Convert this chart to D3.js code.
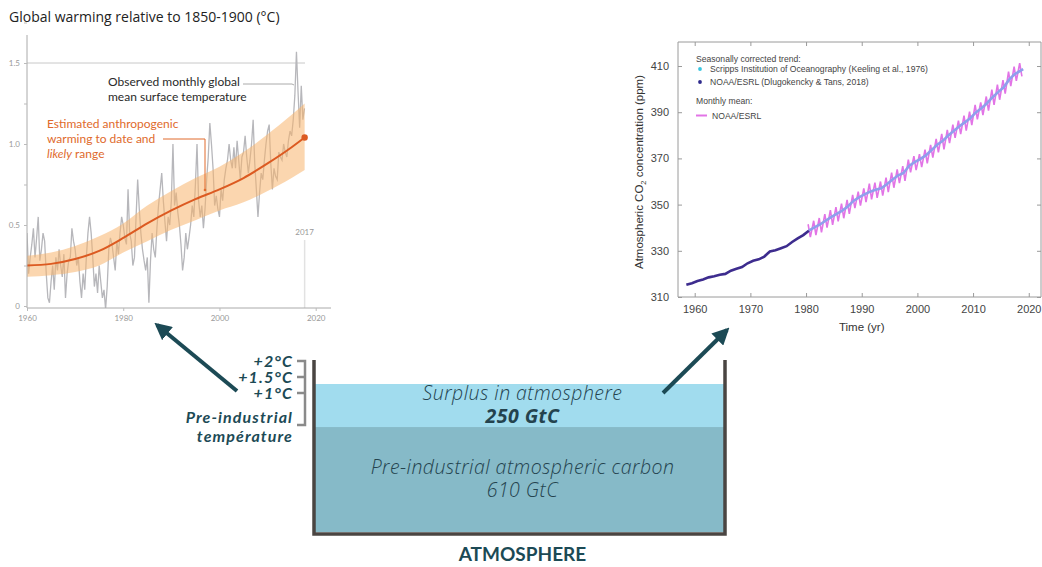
<!DOCTYPE html>
<html>
<head>
<meta charset="utf-8">
<script src="https://cdn.jsdelivr.net/npm/d3@7"></script>
<style>
  body { margin: 0; background: #fff; }
  svg { display: block; }
</style>
</head>
<body>
<svg id="chart"></svg>
<script>
var width = 1042;
var height = 567;

// ---- left chart data: global warming (°C rel. 1850-1900)
var obsStart = 1960;
var obsPerYear = 3;
var obsTemp = [
  0.45, 0.20, 0.30,  0.38, 0.48, 0.30,  0.42, 0.55, 0.28,  0.35, 0.45, 0.40,
  0.20, 0.05, 0.02,  0.15, 0.25, 0.10,  0.30, 0.22, 0.35,  0.25, 0.18, 0.32,
  0.05, 0.20, 0.28,  0.30, 0.48, 0.40,  0.35, 0.25, 0.30,  0.15, 0.05, 0.20,
  0.10, 0.30, 0.45,  0.55, 0.45, 0.30,  0.12, 0.20, 0.08,  0.25, 0.15, 0.05,
  0.10, -0.02, 0.12, 0.35, 0.42, 0.38,  0.30, 0.22, 0.40,  0.32, 0.45, 0.55,
  0.50, 0.42, 0.38,  0.72, 0.45, 0.40,  0.25, 0.30, 0.55,  0.78, 0.60, 0.45,
  0.35, 0.28, 0.22,  0.30, 0.02, 0.28,  0.45, 0.35, 0.30,  0.48, 0.62, 0.72,
  0.82, 0.65, 0.52,  0.40, 0.55, 0.50,  0.65, 1.00, 0.62,  0.70, 0.58, 0.50,
  0.38, 0.22, 0.30,  0.45, 0.35, 0.42,  0.50, 0.62, 0.55,  0.75, 1.00, 0.65,
  0.55, 0.62, 0.48,  0.60, 0.78, 0.92,  1.13, 1.00, 0.85,  0.62, 0.68, 0.60,
  0.55, 0.72, 0.65,  0.78, 0.85, 0.90,  1.00, 0.90, 0.85,  0.98, 0.85, 1.02,
  0.90, 0.78, 0.92,  0.95, 1.05, 0.92,  0.82, 0.90, 1.00,  1.15, 0.88, 0.72,
  0.55, 0.70, 0.82,  0.78, 0.90, 1.00,  1.08, 1.12, 0.88,  0.72, 0.85, 0.80,
  0.78, 0.95, 0.92,  0.90, 1.00, 0.95,  0.92, 1.02, 1.08,  1.05, 1.15, 1.30,
  1.57, 1.32, 1.10,  1.36, 1.15, 1.22
];
var anthroYears = [1960, 1965, 1970, 1975, 1980, 1985, 1990, 1995, 2000, 2005, 2010, 2015, 2017.7];
var anthroMid   = [0.25, 0.26, 0.29, 0.34, 0.42, 0.51, 0.59, 0.66, 0.72, 0.79, 0.88, 0.98, 1.04];
var anthroHigh  = [0.31, 0.33, 0.37, 0.43, 0.51, 0.62, 0.71, 0.79, 0.86, 0.95, 1.06, 1.18, 1.25];
var anthroLow   = [0.18, 0.19, 0.21, 0.25, 0.33, 0.40, 0.47, 0.53, 0.59, 0.64, 0.71, 0.79, 0.84];
var tempYTicks = [0, 0.25, 0.5, 0.75, 1.0, 1.25, 1.5, 1.75];
var tempYLabels = {0: "0", 0.5: "0.5", 1: "1.0", 1.5: "1.5"};
var tempXTicks = [1960, 1980, 2000, 2020];

// ---- right chart data: CO2 (ppm)
var co2Years = [1958, 1959, 1960, 1961, 1962, 1963, 1964, 1965, 1966, 1967, 1968, 1969,
  1970, 1971, 1972, 1973, 1974, 1975, 1976, 1977, 1978, 1979, 1980, 1981, 1982, 1983,
  1984, 1985, 1986, 1987, 1988, 1989, 1990, 1991, 1992, 1993, 1994, 1995, 1996, 1997,
  1998, 1999, 2000, 2001, 2002, 2003, 2004, 2005, 2006, 2007, 2008, 2009, 2010, 2011,
  2012, 2013, 2014, 2015, 2016, 2017, 2018.5];
var co2Trend = [315.3, 316.0, 316.9, 317.6, 318.5, 319.0, 319.6, 320.0, 321.4, 322.2, 323.0, 324.6,
  325.7, 326.3, 327.5, 329.7, 330.2, 331.1, 332.0, 333.8, 335.4, 336.8, 338.7, 340.1, 341.4, 343.0,
  344.6, 346.0, 347.4, 349.2, 351.6, 353.1, 354.4, 355.6, 356.4, 357.1, 358.8, 360.8, 362.6, 363.7,
  366.7, 368.4, 369.7, 371.3, 373.5, 375.8, 377.5, 379.8, 381.9, 383.8, 385.6, 387.4, 389.9, 391.7,
  393.9, 396.5, 398.7, 400.8, 404.2, 406.5, 408.7];
var co2SplitYear = 1980;
// NOAA monthly mean: seasonal maximum (May) and minimum (Sep/Oct) each year, 1980-2018
var co2MonthlyStart = 1980;
var co2Peak = [341.5, 343.0, 344.2, 345.9, 347.6, 348.9, 350.4, 352.0, 354.2, 355.6, 357.0, 359.1,
  359.5, 360.0, 361.7, 363.8, 365.2, 366.7, 369.5, 371.0, 371.8, 373.8, 375.9, 378.5, 380.6, 382.3,
  384.6, 386.4, 388.5, 390.2, 393.2, 394.3, 396.8, 399.8, 401.9, 403.9, 407.6, 409.7, 411.2];
var co2Trough = [335.9, 336.8, 338.0, 340.0, 341.2, 342.7, 344.1, 346.0, 348.5, 349.6, 351.1, 352.3,
  352.9, 353.9, 355.4, 357.3, 359.3, 360.3, 364.0, 364.9, 366.2, 367.9, 370.3, 372.6, 373.9, 376.6,
  378.9, 380.5, 382.0, 384.4, 386.9, 388.8, 390.7, 393.2, 395.4, 398.0, 401.3, 403.6, 405.5];
var co2YTicks = [310, 330, 350, 370, 390, 410];
var co2XTicks = [1960, 1970, 1980, 1990, 2000, 2010, 2020];

// ---- diagram data
var surplusGtC = 250;
var preIndGtC = 610;
var tempLevels = ["+2°C", "+1.5°C", "+1°C"];

var svg = d3.select("#chart")
  .attr("width", width)
  .attr("height", height);

var navy = "#1c4a55";

/////////////////////////////////////// left chart
var lc = svg.append("g").attr("font-family", "Lato, 'Noto Sans', sans-serif");

lc.append("text")
  .attr("x", 9).attr("y", 22)
  .attr("font-size", 14).attr("fill", "#222")
  .attr("font-family", "'Open Sans', sans-serif")
  .text("Global warming relative to 1850-1900 (°C)");

var xT = d3.scaleLinear().domain([1960, 2020]).range([27, 315.7]);
var yT = d3.scaleLinear().domain([0, 1.5]).range([306, 63]);

lc.append("clipPath").attr("id", "clipT")
  .append("rect").attr("x", 27).attr("y", 35).attr("width", 290).attr("height", 273);

// gridline at 1.5
lc.append("line")
  .attr("x1", xT(1960)).attr("x2", 305)
  .attr("y1", yT(1.5)).attr("y2", yT(1.5))
  .attr("stroke", "#c8c8c8").attr("stroke-width", 1);

// 2017 marker line
lc.append("line")
  .attr("x1", xT(2017.7)).attr("x2", xT(2017.7))
  .attr("y1", 240).attr("y2", 308)
  .attr("stroke", "#e2e2e2").attr("stroke-width", 1.5);
lc.append("text")
  .attr("x", xT(2017.7)).attr("y", 235)
  .attr("text-anchor", "middle").attr("font-size", 8).attr("fill", "#999")
  .text("2017");

var obsPts = obsTemp.map(function(v, i) { return [obsStart + i / obsPerYear, v]; });
lc.append("path")
  .datum(obsPts)
  .attr("clip-path", "url(#clipT)")
  .attr("fill", "none")
  .attr("stroke", "#b7b7bb")
  .attr("stroke-width", 1.3)
  .attr("d", d3.line().x(function(d) { return xT(d[0]); }).y(function(d) { return yT(d[1]); }));

var band = anthroYears.map(function(y, i) { return {y: y, lo: anthroLow[i], hi: anthroHigh[i], mid: anthroMid[i]}; });
lc.append("path")
  .datum(band)
  .attr("fill", "#f8b56e").attr("fill-opacity", 0.55)
  .attr("d", d3.area().curve(d3.curveMonotoneX)
    .x(function(d) { return xT(d.y); })
    .y0(function(d) { return yT(d.lo); })
    .y1(function(d) { return yT(d.hi); }));
lc.append("path")
  .datum(band)
  .attr("fill", "none").attr("stroke", "#dc5a21").attr("stroke-width", 2)
  .attr("d", d3.line().curve(d3.curveMonotoneX)
    .x(function(d) { return xT(d.y); })
    .y(function(d) { return yT(d.mid); }));
lc.append("circle")
  .attr("cx", xT(anthroYears[anthroYears.length - 1]))
  .attr("cy", yT(anthroMid[anthroMid.length - 1]))
  .attr("r", 3.2).attr("fill", "#dc5a21");

// axes
var yAxT = lc.append("g").attr("transform", "translate(27,0)")
  .call(d3.axisLeft(yT).tickValues(tempYTicks).tickSize(3).tickPadding(4)
    .tickFormat(function(d) { return tempYLabels[d] || ""; }));
yAxT.select(".domain").attr("d", "M0,35V308").attr("stroke", "#aaa");
yAxT.selectAll(".tick line").attr("stroke", "#bbb");
yAxT.selectAll("text").attr("fill", "#999").attr("font-size", 8).attr("font-family", "Lato, sans-serif");

var xAxT = lc.append("g").attr("transform", "translate(0,308)")
  .call(d3.axisBottom(xT).tickValues(tempXTicks).tickSize(3).tickPadding(4).tickFormat(d3.format("d")));
xAxT.select(".domain").attr("d", "M27,0H331").attr("stroke", "#aaa");
xAxT.selectAll(".tick line").attr("stroke", "#bbb");
xAxT.selectAll("text").attr("fill", "#999").attr("font-size", 8).attr("font-family", "Lato, sans-serif");

// annotations
var obsNote = lc.append("text").attr("font-size", 12).attr("fill", "#2a2a2a");
obsNote.append("tspan").attr("x", 108).attr("y", 86).text("Observed monthly global");
obsNote.append("tspan").attr("x", 108).attr("y", 101).text("mean surface temperature");
lc.append("path")
  .attr("d", "M243,84H292l2,1")
  .attr("fill", "none").attr("stroke", "#aaa").attr("stroke-width", 1);

var antNote = lc.append("text").attr("font-size", 12).attr("fill", "#e06a2c");
antNote.append("tspan").attr("x", 47).attr("y", 128).text("Estimated anthropogenic");
antNote.append("tspan").attr("x", 47).attr("y", 143).text("warming to date and");
var l3 = antNote.append("tspan").attr("x", 47).attr("y", 158);
l3.append("tspan").style("font-style", "italic").text("likely");
l3.append("tspan").style("font-style", "normal").text(" range");
lc.append("path")
  .attr("d", "M163,139H205V190")
  .attr("fill", "none").attr("stroke", "#e06a2c").attr("stroke-width", 1);
lc.append("circle").attr("cx", 205).attr("cy", 190).attr("r", 1.3).attr("fill", "#e06a2c");

/////////////////////////////////////// right chart
var rc = svg.append("g").attr("font-family", "'Liberation Sans', Arial, sans-serif");

var xC = d3.scaleLinear().domain([1957, 2022.2]).range([678, 1041]);
var yC = d3.scaleLinear().domain([310, 420.4]).range([297, 42]);

// frame
rc.append("path")
  .attr("d", "M678,42H1041V297H678Z")
  .attr("fill", "none").attr("stroke", "#9a9a9a").attr("stroke-width", 1);

var axB = rc.append("g").attr("transform", "translate(0,297)")
  .call(d3.axisBottom(xC).tickValues(co2XTicks).tickSize(-4).tickPadding(8).tickFormat(d3.format("d")));
var axTop = rc.append("g").attr("transform", "translate(0,42)")
  .call(d3.axisTop(xC).tickValues(co2XTicks).tickSize(-4).tickFormat(""));
var axL = rc.append("g").attr("transform", "translate(678,0)")
  .call(d3.axisLeft(yC).tickValues(co2YTicks).tickSize(-4).tickPadding(9));
var axR = rc.append("g").attr("transform", "translate(1041,0)")
  .call(d3.axisRight(yC).tickValues(co2YTicks).tickSize(-4).tickFormat(""));
[axB, axTop, axL, axR].forEach(function(a) {
  a.select(".domain").remove();
  a.selectAll(".tick line").attr("stroke", "#9a9a9a");
  a.selectAll("text").attr("fill", "#444").attr("font-size", 11).attr("font-family", "'Liberation Sans', Arial, sans-serif");
});

rc.append("text")
  .attr("x", xC(1990)).attr("y", 331)
  .attr("text-anchor", "middle").attr("font-size", 11.5).attr("fill", "#333")
  .text("Time (yr)");
var yl = rc.append("text")
  .attr("transform", "translate(643,172) rotate(-90)")
  .attr("text-anchor", "middle").attr("font-size", 11.5).attr("fill", "#333");
yl.append("tspan").text("Atmospheric CO");
yl.append("tspan").attr("font-size", 7.5).attr("dy", 3).text("2");
yl.append("tspan").attr("dy", -3).text(" concentration (ppm)");

// monthly mean zigzag
var monthly = [];
co2Peak.forEach(function(p, i) {
  monthly.push([co2MonthlyStart + i + 0.37, p]);
  monthly.push([co2MonthlyStart + i + 0.77, co2Trough[i]]);
});
var lineC = d3.line().x(function(d) { return xC(d[0]); }).y(function(d) { return yC(d[1]); });
rc.append("path").datum(monthly)
  .attr("fill", "none").attr("stroke", "#e274e6").attr("stroke-width", 1.6)
  .attr("d", lineC);

var trend = co2Years.map(function(y, i) { return [y + 0.5, co2Trend[i]]; });
var early = trend.filter(function(d) { return d[0] <= co2SplitYear + 0.5; });
var late = trend.filter(function(d) { return d[0] >= co2SplitYear + 0.5; });
rc.append("path").datum(late)
  .attr("fill", "none").attr("stroke", "#8f9fec").attr("stroke-width", 2.6)
  .attr("d", lineC);
rc.append("path").datum(early)
  .attr("fill", "none").attr("stroke", "#3d2c8e").attr("stroke-width", 2.6)
  .attr("d", lineC);

// legend
var lg = rc.append("g").attr("font-size", 8.6).attr("fill", "#444");
lg.append("text").attr("x", 696).attr("y", 62).text("Seasonally corrected trend:");
lg.append("circle").attr("cx", 700).attr("cy", 69).attr("r", 1.9).attr("fill", "#39c6e0");
lg.append("text").attr("x", 710).attr("y", 72).text("Scripps Institution of Oceanography (Keeling et al., 1976)");
lg.append("circle").attr("cx", 700).attr("cy", 82).attr("r", 1.9).attr("fill", "#2e2a8c");
lg.append("text").attr("x", 710).attr("y", 85).text("NOAA/ESRL (Dlugokencky & Tans, 2018)");
lg.append("text").attr("x", 696).attr("y", 104).text("Monthly mean:");
lg.append("line").attr("x1", 696).attr("x2", 707).attr("y1", 115.5).attr("y2", 115.5)
  .attr("stroke", "#e274e6").attr("stroke-width", 2);
lg.append("text").attr("x", 712).attr("y", 118.5).text("NOAA/ESRL");

/////////////////////////////////////// bucket diagram
var dg = svg.append("g").attr("font-family", "'Open Sans', Lato, sans-serif");

var bucketLeft = 314, bucketRight = 725, bucketTop = 360, bucketBottom = 534;
// stacked carbon reservoir: height proportional to GtC
var yB = d3.scaleLinear().domain([0, preIndGtC + surplusGtC]).range([532, 384]);

dg.append("rect")
  .attr("x", bucketLeft).attr("width", bucketRight - bucketLeft)
  .attr("y", yB(preIndGtC)).attr("height", yB(0) - yB(preIndGtC))
  .attr("fill", "#86bac8");
dg.append("rect")
  .attr("x", bucketLeft).attr("width", bucketRight - bucketLeft)
  .attr("y", yB(preIndGtC + surplusGtC)).attr("height", yB(preIndGtC) - yB(preIndGtC + surplusGtC))
  .attr("fill", "#a1dcee");

dg.append("path")
  .attr("d", "M" + bucketLeft + "," + bucketTop + "V" + bucketBottom + "H" + bucketRight + "V" + bucketTop)
  .attr("fill", "none").attr("stroke", "#4a4542").attr("stroke-width", 3.5);

var cx = (bucketLeft + bucketRight) / 2 + 3;
function bucketText(y, txt, weight) {
  dg.append("text").attr("x", cx).attr("y", y)
    .attr("text-anchor", "middle").attr("font-size", 19.5).attr("font-style", "italic")
    .attr("font-weight", weight).attr("letter-spacing", 0.45)
    .attr("fill", "#24434e").text(txt);
}
bucketText(400, "Surplus in atmosphere", 300);
bucketText(423, surplusGtC + " GtC", 700);
bucketText(474, "Pre-industrial atmospheric carbon", 300);
bucketText(497, preIndGtC + " GtC", 300);
dg.append("text").attr("x", cx).attr("y", 561)
  .attr("text-anchor", "middle").attr("font-size", 19).attr("font-weight", 700)
  .attr("font-family", "Lato, sans-serif")
  .attr("fill", navy).text("ATMOSPHERE");

// temperature bracket
var levelY = [361, 377, 393];
dg.append("path")
  .attr("d", "M297,361H305V425H297M297,377H305M297,393H305")
  .attr("fill", "none").attr("stroke", "#8a8a8a").attr("stroke-width", 2.5);
function tempText(y, txt) {
  dg.append("text").attr("x", 293).attr("y", y)
    .attr("text-anchor", "end").attr("font-size", 16).attr("font-style", "italic").attr("font-weight", 700)
    .attr("font-family", "Lato, sans-serif").attr("letter-spacing", 1.1)
    .attr("fill", navy).text(txt);
}
tempLevels.forEach(function(t, i) { tempText(levelY[i] + 6, t); });
tempText(423, "Pre-industrial");
tempText(442, "température");

// arrows
svg.append("defs").append("marker")
  .attr("id", "head")
  .attr("viewBox", "0 0 10 10").attr("refX", 8).attr("refY", 5)
  .attr("markerUnits", "userSpaceOnUse")
  .attr("markerWidth", 17).attr("markerHeight", 17)
  .attr("orient", "auto")
  .append("path").attr("d", "M0,0L10,5L0,10Z").attr("fill", navy);

dg.append("line")
  .attr("x1", 237).attr("y1", 391).attr("x2", 157).attr("y2", 325)
  .attr("stroke", navy).attr("stroke-width", 4).attr("marker-end", "url(#head)");
dg.append("line")
  .attr("x1", 663).attr("y1", 393).attr("x2", 727).attr("y2", 330)
  .attr("stroke", navy).attr("stroke-width", 4).attr("marker-end", "url(#head)");
</script>
</body>
</html>
